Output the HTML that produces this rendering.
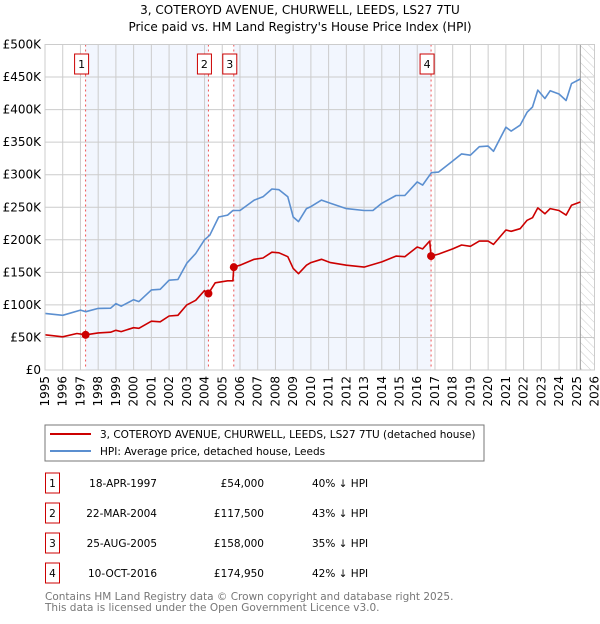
<!DOCTYPE html>
<html><head><meta charset="utf-8"><style>
body{margin:0;background:#fff;font-family:"DejaVu Sans","Liberation Sans",sans-serif;}
svg text{font-family:"DejaVu Sans","Liberation Sans",sans-serif;}
</style></head><body>
<svg id="c" width="600" height="620" xmlns="http://www.w3.org/2000/svg">
<defs><pattern id="hatch" width="6" height="6" patternUnits="userSpaceOnUse" patternTransform="rotate(-45)"><line x1="0" y1="0" x2="0" y2="6" stroke="#ccc" stroke-width="1"/></pattern></defs>
<text x="300" y="14" text-anchor="middle" font-size="12">3, COTEROYD AVENUE, CHURWELL, LEEDS, LS27 7TU</text>
<text x="300" y="31" text-anchor="middle" font-size="12">Price paid vs. HM Land Registry's House Price Index (HPI)</text>
<g id="plot"></g>
<rect x="45" y="425" width="439" height="36" fill="#fff" stroke="#777"/>
<g><line x1="50" y1="434" x2="91" y2="434" stroke="#cc0000" stroke-width="2"/><text x="100" y="438" font-size="10.5">3, COTEROYD AVENUE, CHURWELL, LEEDS, LS27 7TU (detached house)</text></g>
<g><line x1="50" y1="451" x2="91" y2="451" stroke="#5b8fd0" stroke-width="2"/><text x="100" y="455" font-size="10.5">HPI: Average price, detached house, Leeds</text></g>
<g id="table" font-size="10.5"></g>
<text x="45" y="600" font-size="10.5" fill="#777">Contains HM Land Registry data © Crown copyright and database right 2025.</text>
<text x="45" y="611" font-size="10.5" fill="#777">This data is licensed under the Open Government Licence v3.0.</text>
</svg>
<script>
const hpiYears=[1995,1996,1997,1997.3,1998,1998.7,1999,1999.3,2000,2000.3,2001,2001.5,2002,2002.5,2003,2003.5,2004,2004.3,2004.8,2005.3,2005.6,2006,2006.8,2007.3,2007.8,2008.2,2008.7,2009,2009.3,2009.75,2010,2010.6,2011.1,2012,2013,2013.5,2014,2014.8,2015.3,2016,2016.3,2016.8,2017.2,2018,2018.5,2019,2019.5,2020,2020.3,2021,2021.3,2021.8,2022.2,2022.5,2022.8,2023.2,2023.5,2024,2024.4,2024.7,2025.2];
const hpiValues=[87,84,92,89.5,94.6,95,102,98,108,105,123,124,138,139,164,179,200,207,235,238,245,245,261,266,278,277,266,235,228,248,251,261,256,248,245,245,256,268,268,289,284,303,304,321,332,330,343,344,336,373,367,376,396,404,430,417,429,424,414,440,447];
const redYears=[1995,1996,1996.8,1997.3,1998,1998.7,1999,1999.3,2000,2000.3,2001,2001.5,2002,2002.5,2003,2003.5,2004,2004.22,2004.6,2005.3,2005.6,2005.65,2006,2006.8,2007.3,2007.8,2008.2,2008.7,2009,2009.3,2009.75,2010,2010.6,2011.1,2012,2013,2014,2014.8,2015.3,2016,2016.3,2016.7,2016.78,2017.2,2018,2018.5,2019,2019.5,2020,2020.3,2021,2021.3,2021.8,2022.2,2022.5,2022.8,2023.2,2023.5,2024,2024.4,2024.7,2025.2];
const redValues=[54,51,56,54,57,58,61,59,65,64,75,74,83,84,100,107,122,117.5,134,137,137,158,161,170,172,181,180,174,156,148,161,165,170,165,161,158,166,175,174,189,186,198,175,178,186,192,190,198,198,193,215,213,217,230,234,249,240,248,245,238,253,258];
const saleLabels=["1","2","3","4"];
const saleYears=[1997.29,2004.22,2005.65,2016.78];
const salePrices=[54,117.5,158,174.95];
const saleDates=["18-APR-1997","22-MAR-2004","25-AUG-2005","10-OCT-2016"];
const salePriceText=["£54,000","£117,500","£158,000","£174,950"];
const saleHpiText=["40% ↓ HPI","43% ↓ HPI","35% ↓ HPI","42% ↓ HPI"];
const yTicks=[0,50,100,150,200,250,300,350,400,450,500];
const yTickLabels=["£0","£50K","£100K","£150K","£200K","£250K","£300K","£350K","£400K","£450K","£500K"];
const xTicks=[];for(let y=1995;y<=2026;y++)xTicks.push(y);

const X0=45,X1=594.5,Y0=370,Y1=44.5;
const sx=y=>X0+(y-1995)/(2026-1995)*(X1-X0);
const sy=v=>Y0-v/500*(Y0-Y1);
const NS="http://www.w3.org/2000/svg";
const plot=document.getElementById('plot');
function mk(tag,attrs,parent){const e=document.createElementNS(NS,tag);for(const k in attrs)e.setAttribute(k,attrs[k]);(parent||plot).appendChild(e);return e;}

for(let i=0;i<saleYears.length-1;i+=2){
  const r=mk('rect',{x:sx(saleYears[i]),y:Y1,width:sx(saleYears[i+1])-sx(saleYears[i]),height:Y0-Y1,fill:'#f2f6fe'});
  
  
}
const hr=mk('rect',{x:sx(2025.2),y:Y1,width:X1-sx(2025.2),height:Y0-Y1,fill:'url(#hatch)'});


yTicks.forEach((v,i)=>{
  const l=mk('line',{x1:X0,x2:X1,y1:sy(v),y2:sy(v),stroke:'#ccc'});
  
  
  const t=mk('text',{x:X0-4,y:sy(v)+4,'text-anchor':'end','font-size':12});
  t.textContent=yTickLabels[i];
  
  
});
xTicks.forEach(y=>{
  const l=mk('line',{x1:sx(y),x2:sx(y),y1:Y1,y2:Y0,stroke:'#ccc'});
  
  
  const t=mk('text',{x:0,y:0,'text-anchor':'end','font-size':12,transform:`translate(${sx(y)+4},${Y0+6}) rotate(-90)`});
  t.textContent=y;
  
  
});
const dl=mk('line',{x1:sx(2025.2),x2:sx(2025.2),y1:Y1,y2:Y0,stroke:'#999'});


saleYears.forEach((y,i)=>{
  const l=mk('line',{x1:sx(y),x2:sx(y),y1:Y1,y2:Y0,stroke:'#e55','stroke-dasharray':'2,3'});
  
  
  const g=mk('g',{});
  
  
  mk('rect',{x:sx(y)-11,y:54,width:14,height:20,fill:'#fff',stroke:'#c00'},g);
  const t=mk('text',{x:sx(y)-4,y:68,'text-anchor':'middle','font-size':11},g);
  t.textContent=saleLabels[i];
});
function path(xs,vs,color,name){
  const d=xs.map((y,i)=>(i?'L':'M')+sx(y).toFixed(1)+','+sy(vs[i]).toFixed(1)).join('');
  const p=mk('path',{d:d,fill:'none',stroke:color,'stroke-width':1.6,'stroke-linejoin':'round'});
  
  
}
path(hpiYears,hpiValues,'#5b8fd0','hpi-line');
path(redYears,redValues,'#cc0000','price-paid-line');
saleYears.forEach((y,i)=>{
  const c=mk('circle',{cx:sx(y),cy:sy(salePrices[i]),r:4,fill:'#cc0000'});
  
  
});
mk('rect',{x:X0,y:Y1,width:X1-X0,height:Y0-Y1,fill:'none',stroke:'#ccc'});
const tb=document.getElementById('table');
saleYears.forEach((y,i)=>{
  const cy=483+i*30;
  const g=mk('g',{},tb);
  
  
  mk('rect',{x:45.5,y:cy-10,width:14,height:20,fill:'#fff',stroke:'#c00'},g);
  const t0=mk('text',{x:52.5,y:cy+4,'text-anchor':'middle'},g);t0.textContent=saleLabels[i];
  const t1=mk('text',{x:157,y:cy+4,'text-anchor':'end'},g);t1.textContent=saleDates[i];
  const t2=mk('text',{x:264,y:cy+4,'text-anchor':'end'},g);t2.textContent=salePriceText[i];
  const t3=mk('text',{x:312,y:cy+4},g);t3.textContent=saleHpiText[i];
});
</script>
</body></html>
